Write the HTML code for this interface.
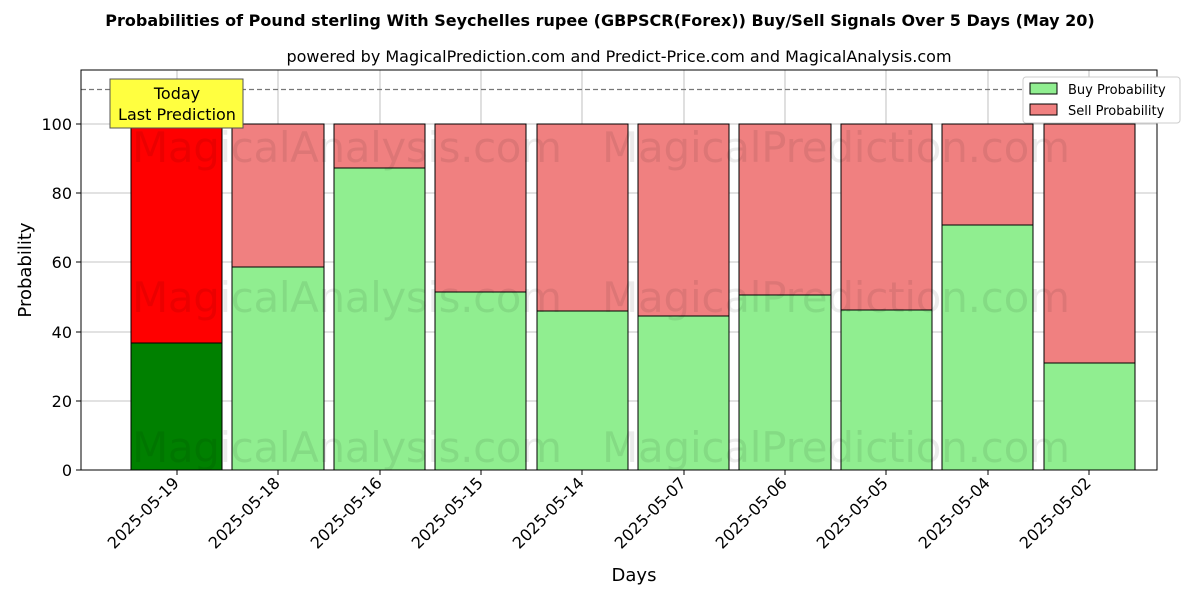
<!DOCTYPE html>
<html><head><meta charset="utf-8"><style>
body{margin:0;background:#fff;}
svg text{font-family:"DejaVu Sans","Liberation Sans",sans-serif;}
</style></head><body>
<svg width="1200" height="600" viewBox="0 0 1200 600" xmlns="http://www.w3.org/2000/svg">
<rect width="1200" height="600" fill="#fff"/>
<text x="600" y="26" text-anchor="middle" font-size="16" font-weight="bold">Probabilities of Pound sterling With Seychelles rupee (GBPSCR(Forex)) Buy/Sell Signals Over 5 Days (May 20)</text>
<text x="619" y="62" text-anchor="middle" font-size="16">powered by MagicalPrediction.com and Predict-Price.com and MagicalAnalysis.com</text>
<g stroke="#b0b0b0" stroke-width="0.8">
<line x1="177" y1="70" x2="177" y2="470"/><line x1="278" y1="70" x2="278" y2="470"/><line x1="380" y1="70" x2="380" y2="470"/><line x1="481" y1="70" x2="481" y2="470"/><line x1="582" y1="70" x2="582" y2="470"/><line x1="684" y1="70" x2="684" y2="470"/><line x1="785" y1="70" x2="785" y2="470"/><line x1="886" y1="70" x2="886" y2="470"/><line x1="988" y1="70" x2="988" y2="470"/><line x1="1089" y1="70" x2="1089" y2="470"/>
<line x1="81" y1="401" x2="1157" y2="401"/><line x1="81" y1="332" x2="1157" y2="332"/><line x1="81" y1="262" x2="1157" y2="262"/><line x1="81" y1="193" x2="1157" y2="193"/><line x1="81" y1="124" x2="1157" y2="124"/>
</g>
<g stroke="#000" stroke-width="1">
<rect x="131" y="343" width="91" height="127" fill="#008000"/><rect x="131" y="124" width="91" height="219" fill="#ff0000"/>
<rect x="232" y="267" width="92" height="203" fill="#90ee90"/><rect x="232" y="124" width="92" height="143" fill="#f08080"/>
<rect x="334" y="168" width="91" height="302" fill="#90ee90"/><rect x="334" y="124" width="91" height="44" fill="#f08080"/>
<rect x="435" y="292" width="91" height="178" fill="#90ee90"/><rect x="435" y="124" width="91" height="168" fill="#f08080"/>
<rect x="537" y="311" width="91" height="159" fill="#90ee90"/><rect x="537" y="124" width="91" height="187" fill="#f08080"/>
<rect x="638" y="316" width="91" height="154" fill="#90ee90"/><rect x="638" y="124" width="91" height="192" fill="#f08080"/>
<rect x="739" y="295" width="92" height="175" fill="#90ee90"/><rect x="739" y="124" width="92" height="171" fill="#f08080"/>
<rect x="841" y="310" width="91" height="160" fill="#90ee90"/><rect x="841" y="124" width="91" height="186" fill="#f08080"/>
<rect x="942" y="225" width="91" height="245" fill="#90ee90"/><rect x="942" y="124" width="91" height="101" fill="#f08080"/>
<rect x="1044" y="363" width="91" height="107" fill="#90ee90"/><rect x="1044" y="124" width="91" height="239" fill="#f08080"/>
</g>
<g fill="#000" fill-opacity="0.08" font-size="42">
<text x="132" y="162" textLength="430">MagicalAnalysis.com</text><text x="602" y="162" textLength="468">MagicalPrediction.com</text>
<text x="132" y="312" textLength="430">MagicalAnalysis.com</text><text x="602" y="312" textLength="468">MagicalPrediction.com</text>
<text x="132" y="462" textLength="430">MagicalAnalysis.com</text><text x="602" y="462" textLength="468">MagicalPrediction.com</text>
</g>
<line x1="81" y1="89.5" x2="1157" y2="89.5" stroke="#777" stroke-width="1.2" stroke-dasharray="5,3"/>
<rect x="110" y="79" width="133" height="49" fill="#ffff40" stroke="#555"/>
<text x="177" y="99" text-anchor="middle" font-size="16">Today</text>
<text x="177" y="120" text-anchor="middle" font-size="16">Last Prediction</text>
<rect x="81" y="70" width="1076" height="400" fill="none" stroke="#000"/>
<g font-size="16" text-anchor="end">
<text x="72" y="476">0</text><text x="72" y="407">20</text><text x="72" y="338">40</text><text x="72" y="268">60</text><text x="72" y="199">80</text><text x="72" y="130">100</text>
</g>
<g stroke="#000"><line x1="76" y1="470" x2="81" y2="470"/><line x1="76" y1="401" x2="81" y2="401"/><line x1="76" y1="332" x2="81" y2="332"/><line x1="76" y1="262" x2="81" y2="262"/><line x1="76" y1="193" x2="81" y2="193"/><line x1="76" y1="124" x2="81" y2="124"/></g>
<text transform="translate(31,270) rotate(-90)" text-anchor="middle" font-size="18">Probability</text>
<g font-size="16" text-anchor="end">
<text transform="translate(180,484) rotate(-45)">2025-05-19</text>
<text transform="translate(281,484) rotate(-45)">2025-05-18</text>
<text transform="translate(383,484) rotate(-45)">2025-05-16</text>
<text transform="translate(484,484) rotate(-45)">2025-05-15</text>
<text transform="translate(585,484) rotate(-45)">2025-05-14</text>
<text transform="translate(687,484) rotate(-45)">2025-05-07</text>
<text transform="translate(788,484) rotate(-45)">2025-05-06</text>
<text transform="translate(889,484) rotate(-45)">2025-05-05</text>
<text transform="translate(991,484) rotate(-45)">2025-05-04</text>
<text transform="translate(1092,484) rotate(-45)">2025-05-02</text>
</g>
<g stroke="#000"><line x1="177" y1="470" x2="177" y2="475"/><line x1="278" y1="470" x2="278" y2="475"/><line x1="380" y1="470" x2="380" y2="475"/><line x1="481" y1="470" x2="481" y2="475"/><line x1="582" y1="470" x2="582" y2="475"/><line x1="684" y1="470" x2="684" y2="475"/><line x1="785" y1="470" x2="785" y2="475"/><line x1="886" y1="470" x2="886" y2="475"/><line x1="988" y1="470" x2="988" y2="475"/><line x1="1089" y1="470" x2="1089" y2="475"/></g>
<text x="634" y="581" text-anchor="middle" font-size="18">Days</text>
<rect x="1023" y="77" width="157" height="46" fill="#fff" stroke="#ccc" rx="3"/>
<rect x="1030" y="83" width="27" height="11" fill="#90ee90" stroke="#000"/>
<text x="1068" y="94" font-size="13">Buy Probability</text>
<rect x="1030" y="104" width="27" height="11" fill="#f08080" stroke="#000"/>
<text x="1068" y="115" font-size="13">Sell Probability</text>
</svg>
</body></html>
